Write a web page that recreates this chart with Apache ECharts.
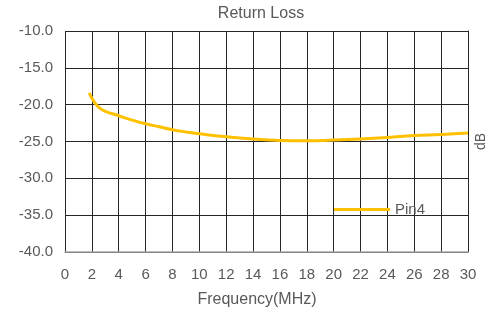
<!DOCTYPE html>
<html>
<head>
<meta charset="utf-8">
<script src="https://cdn.jsdelivr.net/npm/echarts@6/dist/echarts.min.js"></script>
<style>
  html, body { margin: 0; padding: 0; background: #fff; }
  #chart { width: 499px; height: 313px; }
</style>
</head>
<body>
<div id="chart"></div>
<script>
// frequency (MHz) and return loss (dB)
var freq = [1.8, 2.2, 2.6, 3, 4, 5, 6, 7, 8, 9, 10, 12, 14, 16, 18, 20, 22, 24, 26, 28, 30];
var pin4 = [-18.4, -19.7, -20.5, -20.9, -21.5, -22.1, -22.6, -23.0, -23.4, -23.7, -23.95, -24.35, -24.65, -24.85, -24.9, -24.8, -24.65, -24.45, -24.2, -24.05, -23.85];

var textColor = '#595959';
var font = 'Liberation Sans';

var myChart = echarts.init(document.getElementById('chart'));
var points = freq.map(function (f, i) { return [f, pin4[i]]; });

var option = {
  backgroundColor: '#fff',
  animation: false,
  title: {
    text: 'Return Loss',
    left: 256, top: 1, textAlign: 'center',
    textStyle: { color: textColor, fontSize: 16, fontWeight: 'normal', fontFamily: font }
  },
  legend: {
    data: ['Pin4'],
    left: 329, top: 197,
    icon: 'rect', itemWidth: 56, itemHeight: 3, itemGap: 6,
    textStyle: { color: textColor, fontSize: 15, fontFamily: font }
  },
  grid: { left: 65, right: 31, top: 31, bottom: 59 },
  xAxis: {
    type: 'value', min: 0, max: 30, interval: 2,
    name: 'Frequency(MHz)', nameLocation: 'middle', nameGap: 40,
    nameTextStyle: { color: textColor, fontSize: 16, fontFamily: font, padding: [0, 19, 0, 0] },
    axisLine: { lineStyle: { color: '#a6a6a6', width: 1.5 } },
    axisTick: { show: false },
    axisLabel: { color: textColor, fontSize: 15, fontFamily: font, margin: 15 },
    splitLine: { show: true, lineStyle: { color: '#262626', width: 1 } }
  },
  yAxis: [{
    type: 'value', min: -40, max: -10, interval: 5,
    axisLine: { show: false },
    axisTick: { show: false },
    axisLabel: {
      color: textColor, fontSize: 15, fontFamily: font, margin: 12,
      formatter: function (v) { return v.toFixed(1); }
    },
    splitLine: { show: true, lineStyle: { color: '#262626', width: 1 } }
  }, {
    type: 'value', min: -40, max: -10, position: 'right',
    name: 'dB', nameLocation: 'middle', nameGap: 6,
    nameTextStyle: { color: textColor, fontSize: 14, fontFamily: font },
    axisLine: { show: true, lineStyle: { color: '#262626', width: 1 } },
    axisTick: { show: false },
    axisLabel: { show: false },
    splitLine: { show: false }
  }],
  series: [{
    name: 'Pin4',
    type: 'line',
    data: points,
    smooth: true,
    showSymbol: false,
    symbol: 'none',
    lineStyle: { color: '#FFC000', width: 3 },
    itemStyle: { color: '#FFC000' }
  }]
};
option && myChart.setOption(option);
</script>
</body>
</html>
